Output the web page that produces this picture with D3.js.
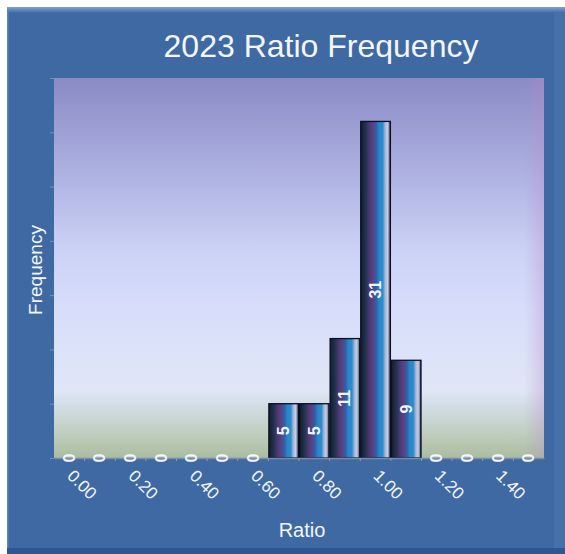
<!DOCTYPE html>
<html>
<head>
<meta charset="utf-8">
<script src="https://cdn.jsdelivr.net/npm/d3@7"></script>
<style>
  html, body { margin: 0; padding: 0; background: #ffffff; }
  svg { display: block; }
  text { font-family: "Liberation Sans", Arial, sans-serif; fill: #f3f6fb; }
</style>
</head>
<body>
<svg id="chart" width="565" height="554"></svg>
<script>
// Histogram bins (lower edge of each 0.10-wide ratio bin) and their counts
const bins = ["0.00","0.10","0.20","0.30","0.40","0.50","0.60","0.70",
              "0.80","0.90","1.00","1.10","1.20","1.30","1.40","1.50"];
const counts = [0, 0, 0, 0, 0, 0, 0, 5, 5, 11, 31, 9, 0, 0, 0, 0];
const tickLabels = ["0.00","0.20","0.40","0.60","0.80","1.00","1.20","1.40"];
const yTicks = [0, 5, 10, 15, 20, 25, 30, 35];

const chartTitle = "2023 Ratio Frequency";
const xTitle = "Ratio";
const yTitle = "Frequency";

const W = 565, H = 554;
const plot = { left: 54, right: 544, top: 78, bottom: 458 };

const svg = d3.select("#chart");
const defs = svg.append("defs");

// ---- gradients ----
const panelGrad = defs.append("linearGradient").attr("id", "panelTop")
  .attr("x1", 0).attr("y1", 0).attr("x2", 0).attr("y2", 1);
panelGrad.append("stop").attr("offset", 0).attr("stop-color", "#7fa3d6");
panelGrad.append("stop").attr("offset", 1).attr("stop-color", "#3f69a3");

const bg = defs.append("linearGradient").attr("id", "plotBg")
  .attr("x1", 0).attr("y1", 0).attr("x2", 0).attr("y2", 1);
[[0, "#8a8ac5"], [0.2, "#a6a9dc"], [0.45, "#cbd1f5"], [0.62, "#d8defa"],
 [0.82, "#e0e6f6"], [0.86, "#d3dde6"], [0.93, "#c1cfc2"], [1, "#aabd9f"]]
  .forEach(([o, c]) => bg.append("stop").attr("offset", o).attr("stop-color", c));

const tint = defs.append("linearGradient").attr("id", "plotTint")
  .attr("x1", 0).attr("y1", 0).attr("x2", 1).attr("y2", 0);
tint.append("stop").attr("offset", 0.96).attr("stop-color", "#b88cc8").attr("stop-opacity", 0);
tint.append("stop").attr("offset", 1).attr("stop-color", "#b88cc8").attr("stop-opacity", 0.35);

const barGrad = defs.append("linearGradient").attr("id", "barFill")
  .attr("x1", 0).attr("y1", 0).attr("x2", 1).attr("y2", 0);
[[0, "#141d33"], [0.14, "#1d3048"], [0.3, "#4a3a72"], [0.4, "#5c3f82"],
 [0.52, "#2f5fa6"], [0.62, "#2a86c8"], [0.74, "#2b8ccf"], [0.82, "#9fb3d6"],
 [0.9, "#c6cee2"], [0.96, "#7c86a8"], [1, "#141a30"]]
  .forEach(([o, c]) => barGrad.append("stop").attr("offset", o).attr("stop-color", c));

// ---- panel ----
svg.append("rect").attr("x", 7).attr("y", 7).attr("width", W - 7).attr("height", H - 7)
  .attr("fill", "#3f69a3");
svg.append("rect").attr("x", 7).attr("y", 7).attr("width", W - 7).attr("height", 6)
  .attr("fill", "url(#panelTop)");
svg.append("rect").attr("x", 7).attr("y", 12).attr("width", 1.5).attr("height", H - 12)
  .attr("fill", "#6b8fc4").attr("opacity", 0.7);
svg.append("rect").attr("x", 554).attr("y", 12).attr("width", W - 554).attr("height", H - 12)
  .attr("fill", "#4670a8");
svg.append("rect").attr("x", 7).attr("y", 548).attr("width", W - 7).attr("height", H - 548)
  .attr("fill", "#2f5692");

// ---- scales ----
const x = d3.scaleBand().domain(bins).range([plot.left, plot.right]).padding(0);
const y = d3.scaleLinear().domain([0, 35]).range([plot.bottom, plot.top]);

// ---- plot background ----
svg.append("rect").attr("x", plot.left).attr("y", plot.top)
  .attr("width", plot.right - plot.left).attr("height", plot.bottom - plot.top)
  .attr("fill", "url(#plotBg)");
svg.append("rect").attr("x", plot.left).attr("y", plot.top)
  .attr("width", plot.right - plot.left).attr("height", plot.bottom - plot.top)
  .attr("fill", "url(#plotTint)");

// ---- y axis (faint tick marks only, no labels) ----
const yAxis = svg.append("g").attr("transform", `translate(${plot.left},0)`)
  .call(d3.axisLeft(y).tickValues(yTicks).tickSize(4).tickFormat(""));
yAxis.select(".domain").remove();
yAxis.selectAll(".tick line").attr("stroke", "#8ea0c0").attr("stroke-opacity", 0.7);

// ---- bars ----
const data = bins.map((b, i) => ({ bin: b, count: counts[i] }));
svg.append("g").selectAll("rect").data(data.filter(d => d.count > 0)).join("rect")
  .attr("x", d => x(d.bin) + 0.5)
  .attr("y", d => y(d.count))
  .attr("width", x.bandwidth() - 1)
  .attr("height", d => y(0) - y(d.count))
  .attr("fill", "url(#barFill)")
  .attr("stroke", "#0b0f1e")
  .attr("stroke-width", 1.3);

// ---- x axis ----
const xAxis = svg.append("g").attr("transform", `translate(0,${plot.bottom})`)
  .call(d3.axisBottom(x).tickSize(0).tickFormat(""));
xAxis.select(".domain").attr("stroke", "#7a8ca6").attr("stroke-width", 1.5);
svg.append("g").selectAll("line").data(bins.slice(1)).join("line")
  .attr("x1", d => x(d)).attr("x2", d => x(d))
  .attr("y1", plot.bottom).attr("y2", plot.bottom + 3)
  .attr("stroke", "#8d9cb4");

// rotated bin labels under every other bin
svg.append("g").selectAll("text").data(tickLabels).join("text")
  .attr("transform", d => `translate(${x(d) + x.bandwidth() / 2 - 3},${plot.bottom + 19}) rotate(45)`)
  .attr("text-anchor", "start")
  .attr("font-size", 17)
  .text(d => d);

// ---- value labels (centred in each bar, reading upward) ----
svg.append("g").selectAll("text").data(data).join("text")
  .attr("transform", d => `translate(${x(d.bin) + x.bandwidth() / 2},${(y(d.count) + y(0)) / 2}) rotate(-90)`)
  .attr("text-anchor", "middle")
  .attr("dominant-baseline", "central")
  .attr("font-size", 16)
  .attr("font-weight", "bold")
  .text(d => d.count);

// ---- titles ----
svg.append("text").attr("x", 321).attr("y", 57)
  .attr("text-anchor", "middle").attr("font-size", 32)
  .text(chartTitle);

svg.append("text").attr("x", 302).attr("y", 537)
  .attr("text-anchor", "middle").attr("font-size", 20)
  .text(xTitle);

svg.append("text")
  .attr("transform", `translate(42,${(plot.top + plot.bottom) / 2 + 2}) rotate(-90)`)
  .attr("text-anchor", "middle").attr("font-size", 19)
  .text(yTitle);
</script>
</body>
</html>
